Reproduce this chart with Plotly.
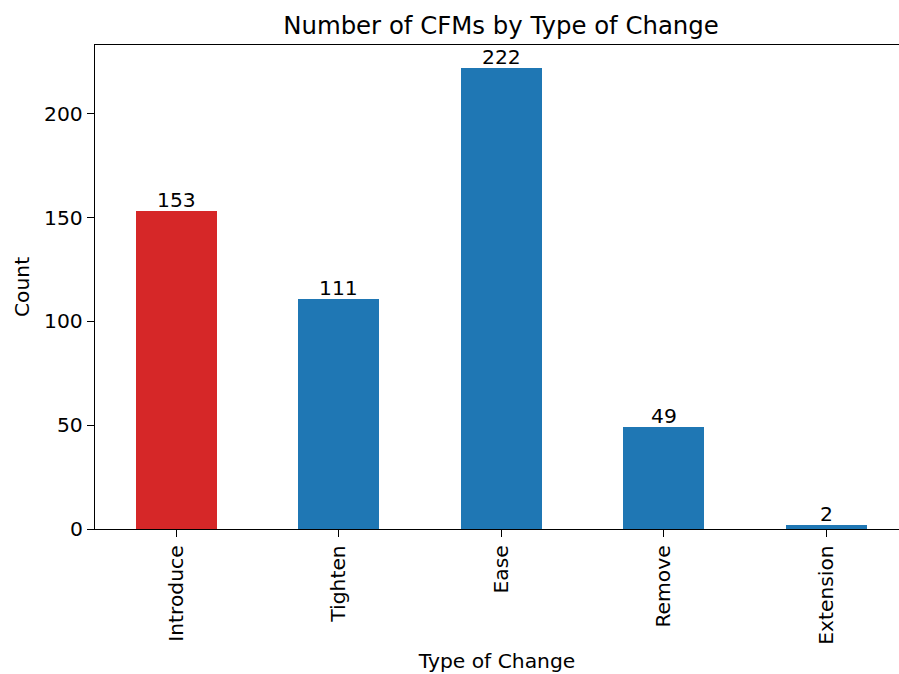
import plotly.graph_objects as go

categories = ["Introduce", "Tighten", "Ease", "Remove", "Extension"]
counts = [153, 111, 222, 49, 2]
bar_colors = ["#d62728", "#1f77b4", "#1f77b4", "#1f77b4", "#1f77b4"]
y_ticks = [0, 50, 100, 150, 200]

FONT = "DejaVu Sans"
FS = 20.3
W, H = 899, 674

fig = go.Figure()
fig.add_trace(go.Bar(
    x=list(range(len(categories))),
    y=counts,
    width=0.5,
    marker=dict(color=bar_colors, line=dict(width=0)),
    cliponaxis=False,
))
for i, c in enumerate(counts):
    fig.add_annotation(x=i, y=c, text=str(c), showarrow=False,
                       yanchor="bottom", yshift=-3,
                       font=dict(family=FONT, size=FS, color="black"))

fig.update_layout(
    width=W, height=H,
    margin=dict(l=95, r=0, t=45, b=145),
    paper_bgcolor="white", plot_bgcolor="white",
    font=dict(family=FONT, size=FS, color="black"),
    title=dict(text="Number of CFMs by Type of Change",
               x=(501 - 95) / 804, xref="paper", xanchor="center",
               y=1 - 25 / H, yanchor="middle",
               font=dict(family=FONT, size=24.4, color="black")),
    showlegend=False,
    bargap=0,
)
fig.update_xaxes(
    range=[-0.5, -0.5 + 804 / 162.5],
    tickmode="array",
    tickvals=list(range(len(categories))),
    ticktext=categories,
    tickangle=-90,
    ticks="outside", ticklen=7, tickwidth=1.2, tickcolor="black",
    showline=True, linecolor="black", linewidth=1.3, mirror=True,
    showgrid=False, zeroline=False,
    title=dict(text="Type of Change", font=dict(family=FONT, size=FS), standoff=9),
    tickfont=dict(family=FONT, size=FS),
)
fig.update_yaxes(
    range=[0, 222 * 1.05],
    tickmode="array",
    tickvals=y_ticks,
    ticks="outside", ticklen=7, tickwidth=1.2, tickcolor="black",
    showline=True, linecolor="black", linewidth=1.3, mirror=False,
    showgrid=False, zeroline=False,
    title=dict(text="Count", font=dict(family=FONT, size=FS), standoff=8),
    tickfont=dict(family=FONT, size=FS),
)

fig.write_html("out.html", config={"displayModeBar": False},
               post_script="document.body.style.margin='0';document.body.style.overflow='hidden';")
